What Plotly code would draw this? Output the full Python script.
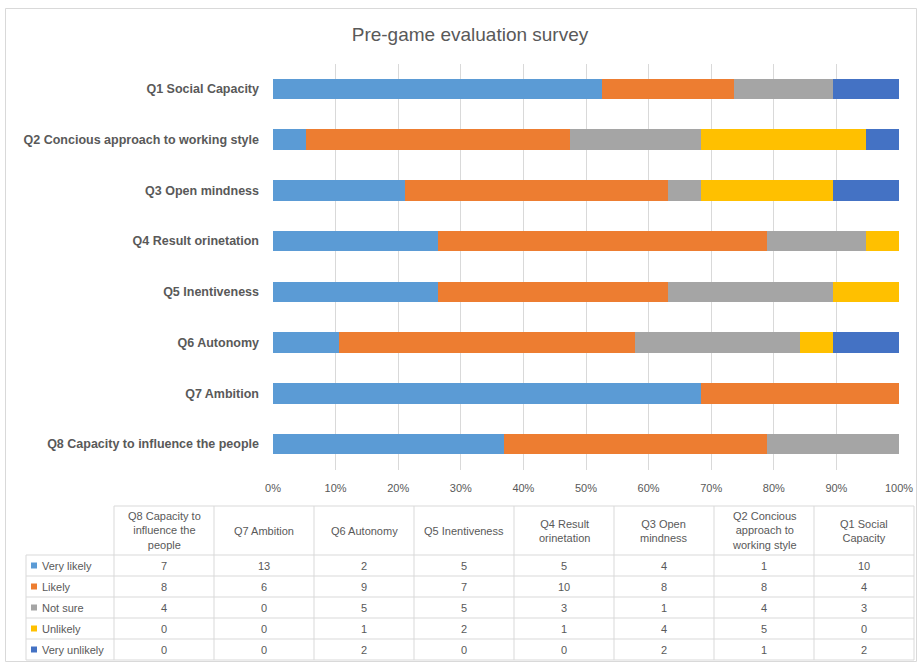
import plotly.graph_objects as go

questions = [
    "Q8 Capacity to influence the people",
    "Q7 Ambition",
    "Q6 Autonomy",
    "Q5 Inentiveness",
    "Q4 Result orinetation",
    "Q3 Open mindness",
    "Q2 Concious approach to working style",
    "Q1 Social Capacity",
]
header_labels = [
    "Q8 Capacity to<br>influence the<br>people",
    "Q7 Ambition",
    "Q6 Autonomy",
    "Q5 Inentiveness",
    "Q4 Result<br>orinetation",
    "Q3 Open<br>mindness",
    "Q2 Concious<br>approach to<br>working style",
    "Q1 Social<br>Capacity",
]
series_names = ["Very likely", "Likely", "Not sure", "Unlikely", "Very unlikely"]
very_likely = [7, 13, 2, 5, 5, 4, 1, 10]
likely = [8, 6, 9, 7, 10, 8, 8, 4]
not_sure = [4, 0, 5, 5, 3, 1, 4, 3]
unlikely = [0, 0, 1, 2, 1, 4, 5, 0]
very_unlikely = [0, 0, 2, 0, 0, 2, 1, 2]
series_values = [very_likely, likely, not_sure, unlikely, very_unlikely]
colors = ["#5B9BD5", "#ED7D31", "#A5A5A5", "#FFC000", "#4472C4"]
x_ticks = [0, 10, 20, 30, 40, 50, 60, 70, 80, 90, 100]

W, H = 917, 662
def px(x):
    return x / W
def py(y):
    return 1 - y / H

TXT = "#595959"
GRID = "#D9D9D9"
FONT = "Liberation Sans"

fig = go.Figure()
for name, vals, col in zip(series_names, series_values, colors):
    fig.add_trace(go.Bar(
        y=questions, x=vals, name=name, orientation="h",
        marker=dict(color=col, line=dict(width=0)),
        showlegend=False, hoverinfo="skip",
    ))

fig.update_layout(
    template="none",
    width=W, height=H, autosize=False,
    margin=dict(l=0, r=0, t=0, b=0, pad=0, autoexpand=False),
    paper_bgcolor="white", plot_bgcolor="white",
    barmode="stack", barnorm="percent", bargap=0.6,
    font=dict(family=FONT, color=TXT, size=11),
    title=dict(text="Pre-game evaluation survey", x=px(470), xanchor="center",
               y=py(34), yanchor="middle",
               font=dict(family=FONT, size=19, color=TXT)),
    xaxis=dict(domain=[px(273), px(899)], range=[0, 100], automargin=False,
               tickvals=x_ticks, ticktext=[f"{v}%" for v in x_ticks],
               showgrid=True, gridcolor=GRID, gridwidth=1,
               zeroline=False, showline=False, ticks="",
               tickfont=dict(size=11, color=TXT), anchor="y",
               ticklabelstandoff=10),
    yaxis=dict(domain=[py(469.5), py(63.5)], range=[-0.5, 7.5], automargin=False,
               categoryorder="array", categoryarray=questions,
               showgrid=False, zeroline=False, showline=False, ticks="",
               tickfont=dict(size=12.5, color=TXT, family=FONT),
               ticklabelstandoff=13),
)
fig.update_yaxes(tickvals=questions, ticktext=[f"<b>{q}</b>" for q in questions])

shapes = []
annotations = []
shapes.append(dict(type="rect", xref="paper", yref="paper",
                   x0=px(5.5), x1=px(916.5), y0=py(661.5), y1=py(8.5),
                   line=dict(color=GRID, width=1), fillcolor="rgba(0,0,0,0)"))

col_x = [114 + 100 * i for i in range(9)]
row_y = [506, 555, 576, 597, 618, 639, 660]
label_left = 26

def line(x0, y0, x1, y1):
    shapes.append(dict(type="line", xref="paper", yref="paper",
                       x0=px(x0), y0=py(y0), x1=px(x1), y1=py(y1),
                       line=dict(color=GRID, width=1)))

line(col_x[0], row_y[0], col_x[-1], row_y[0])
for y in row_y[1:]:
    line(label_left, y, col_x[-1], y)
for x in col_x:
    line(x, row_y[0], x, row_y[-1])
line(label_left, row_y[1], label_left, row_y[-1])

for i, h in enumerate(header_labels):
    annotations.append(dict(xref="paper", yref="paper",
                            x=px((col_x[i] + col_x[i + 1]) / 2),
                            y=py((row_y[0] + row_y[1]) / 2),
                            text=h, showarrow=False, xanchor="center", yanchor="middle",
                            font=dict(size=11, color=TXT, family=FONT), align="center"))
for r, (name, vals, col) in enumerate(zip(series_names, series_values, colors)):
    yc = (row_y[r + 1] + row_y[r + 2]) / 2
    shapes.append(dict(type="rect", xref="paper", yref="paper",
                       x0=px(31), x1=px(37), y0=py(yc + 3), y1=py(yc - 3),
                       line=dict(width=0), fillcolor=col))
    annotations.append(dict(xref="paper", yref="paper", x=px(40), y=py(yc),
                            text=name, showarrow=False, xanchor="left", yanchor="middle",
                            font=dict(size=11, color=TXT, family=FONT)))
    for i, v in enumerate(vals):
        annotations.append(dict(xref="paper", yref="paper",
                                x=px((col_x[i] + col_x[i + 1]) / 2), y=py(yc),
                                text=str(v), showarrow=False, xanchor="center", yanchor="middle",
                                font=dict(size=11, color=TXT, family=FONT)))

fig.update_layout(shapes=shapes, annotations=annotations)
fig.write_html("out.html", config={"responsive": False, "displayModeBar": False},
               post_script="document.body.style.margin='0';document.body.style.overflow='hidden';document.documentElement.style.overflow='hidden';")
